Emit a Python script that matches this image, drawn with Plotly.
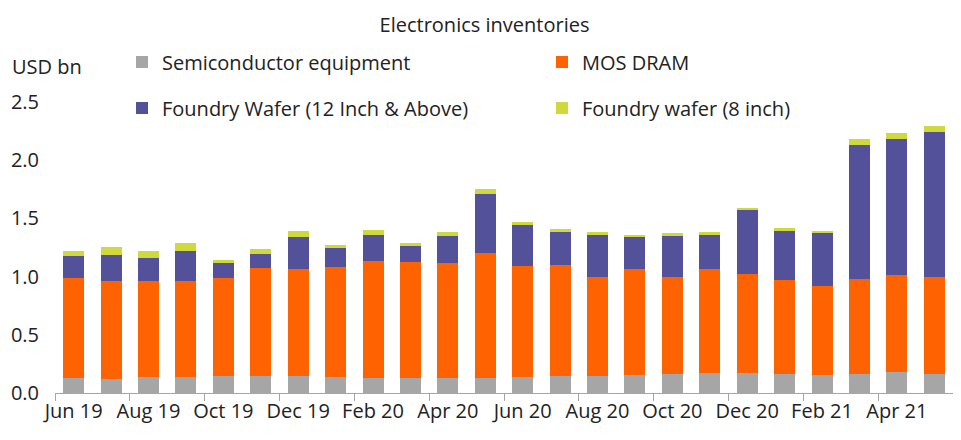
import plotly.graph_objects as go

months = ["Jun 19", "Jul 19", "Aug 19", "Sep 19", "Oct 19", "Nov 19", "Dec 19", "Jan 20",
          "Feb 20", "Mar 20", "Apr 20", "May 20", "Jun 20", "Jul 20", "Aug 20", "Sep 20",
          "Oct 20", "Nov 20", "Dec 20", "Jan 21", "Feb 21", "Mar 21", "Apr 21", "May 21"]

semi_equipment = [0.126, 0.117, 0.137, 0.137, 0.146, 0.146, 0.146, 0.137, 0.126, 0.126, 0.126, 0.126,
                  0.137, 0.146, 0.146, 0.155, 0.163, 0.172, 0.172, 0.163, 0.155, 0.163, 0.180, 0.163]
mos_dram = [0.861, 0.844, 0.824, 0.824, 0.841, 0.927, 0.918, 0.945, 1.007, 0.998, 0.990, 1.076,
            0.953, 0.953, 0.850, 0.909, 0.833, 0.892, 0.849, 0.807, 0.763, 0.816, 0.833, 0.833]
foundry_12 = [0.186, 0.221, 0.195, 0.258, 0.129, 0.117, 0.272, 0.163, 0.223, 0.138, 0.229, 0.509,
              0.352, 0.280, 0.360, 0.272, 0.360, 0.301, 0.547, 0.421, 0.453, 1.155, 1.173, 1.250]
foundry_8 = [0.046, 0.071, 0.063, 0.069, 0.026, 0.046, 0.055, 0.025, 0.043, 0.026, 0.037, 0.040,
             0.026, 0.029, 0.026, 0.020, 0.017, 0.017, 0.020, 0.025, 0.020, 0.046, 0.046, 0.046]

font_family = "Open Sans, sans-serif"
text_color = "#222222"
fs = 20

# page body has an 8px default margin, so the figure is sized to fit the window
W, H = 953, 432
ML, MR, MT, MB = 47, 8, 94, 46.5
plot_w = W - ML - MR
plot_h = H - MT - MB

series = [
    ("Semiconductor equipment", semi_equipment, "#a6a6a6", "legend"),
    ("MOS DRAM", mos_dram, "#ff6200", "legend"),
    ("Foundry Wafer (12 Inch & Above)", foundry_12, "#525199", "legend2"),
    ("Foundry wafer (8 inch)", foundry_8, "#d0d93c", "legend2"),
]

fig = go.Figure()
for name, vals, color, lg in series:
    fig.add_trace(go.Bar(
        x=months, y=vals, name=name, marker_color=color,
        marker_line_width=0, legend=lg,
    ))

legend_common = dict(
    orientation="h", xref="container", yref="container",
    xanchor="left", yanchor="middle",
    font=dict(family=font_family, size=fs, color=text_color),
    entrywidth=375, entrywidthmode="pixels",
    bgcolor="rgba(0,0,0,0)", itemclick=False, itemdoubleclick=False,
    traceorder="normal",
)

fig.update_layout(
    barmode="stack",
    bargap=0.44,
    width=W, height=H,
    margin=dict(l=ML, r=MR, t=MT, b=MB, autoexpand=False),
    paper_bgcolor="white", plot_bgcolor="white",
    font=dict(family=font_family, size=fs, color=text_color),
    title=dict(text="Electronics inventories", x=0.5, xref="container", xanchor="center",
               y=1 - 17 / H, yref="container", yanchor="middle",
               font=dict(family=font_family, size=fs, color=text_color)),
    legend=dict(x=114 / W, y=1 - 54 / H, **legend_common),
    legend2=dict(x=114 / W, y=1 - 100 / H, **legend_common),
    xaxis=dict(
        type="category", tickmode="linear", tick0=0, dtick=2, tickangle=0,
        tickson="boundaries", ticks="outside", ticklen=7, tickcolor="#a6a6a6",
        showline=True, linecolor="#a6a6a6", linewidth=1,
        showgrid=False, zeroline=False,
        tickfont=dict(family=font_family, size=fs, color=text_color),
    ),
    yaxis=dict(
        range=[0, 2.5], tickvals=[0, 0.5, 1.0, 1.5, 2.0, 2.5], tickformat=".1f",
        showgrid=False, zeroline=False, showline=False,
        ticklabelstandoff=15,
        tickfont=dict(family=font_family, size=fs, color=text_color),
    ),
    annotations=[dict(
        text="USD bn", xref="paper", yref="paper", x=(2 - ML) / plot_w, y=(H - MB - 58) / plot_h,
        xanchor="left", yanchor="middle", showarrow=False,
        font=dict(family=font_family, size=fs, color=text_color),
    )],
)

fig.write_html("out.html")
